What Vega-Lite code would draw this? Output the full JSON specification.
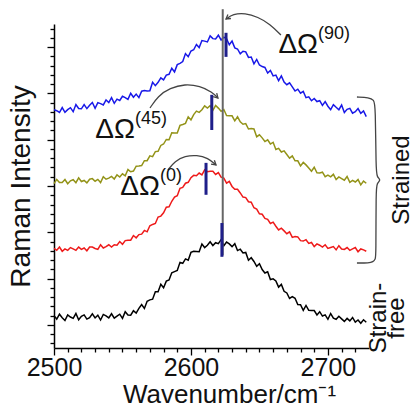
{
  "$schema": "https://vega.github.io/schema/vega-lite/v6.json",
  "width": 315,
  "height": 324,
  "autosize": "none",
  "padding": {"left": 54, "top": 24, "right": 46, "bottom": 63},
  "background": "white",
  "config": {"view": {"stroke": null}, "font": "Liberation Sans"},
  "datasets": {
    "spectra": [
      {"w":2500,"k":0.20,"r":1.65,"o":3.051,"b":4.648},{"w":2502,"k":0.125,"r":1.61,"o":3.142,"b":4.626},{"w":2504,"k":0.23,"r":1.68,"o":3.077,"b":4.588},{"w":2506,"k":0.155,"r":1.59,"o":3.074,"b":4.694},{"w":2508,"k":0.095,"r":1.64,"o":3.139,"b":4.592},
      {"w":2510,"k":0.215,"r":1.61,"o":3.048,"b":4.65},{"w":2512,"k":0.17,"r":1.67,"o":3.113,"b":4.692},{"w":2514,"k":0.14,"r":1.64,"o":3.136,"b":4.606},{"w":2516,"k":0.245,"r":1.61,"o":3.071,"b":4.76},{"w":2518,"k":0.11,"r":1.68,"o":3.175,"b":4.674},
      {"w":2520,"k":0.185,"r":1.63,"o":3.097,"b":4.668},{"w":2522,"k":0.215,"r":1.66,"o":3.12,"b":4.758},{"w":2524,"k":0.125,"r":1.60,"o":3.068,"b":4.672},{"w":2526,"k":0.155,"r":1.68,"o":3.146,"b":4.746},{"w":2528,"k":0.24,"r":1.68,"o":3.159,"b":4.804},
      {"w":2530,"k":0.15,"r":1.65,"o":3.104,"b":4.68},{"w":2532,"k":0.21,"r":1.63,"o":3.143,"b":4.802},{"w":2534,"k":0.105,"r":1.73,"o":3.075,"b":4.78},{"w":2536,"k":0.225,"r":1.66,"o":3.202,"b":4.752},{"w":2538,"k":0.195,"r":1.69,"o":3.147,"b":4.858},
      {"w":2540,"k":0.15,"r":1.73,"o":3.17,"b":4.804},{"w":2542,"k":0.24,"r":1.68,"o":3.206,"b":4.91},{"w":2544,"k":0.145,"r":1.73,"o":3.151,"b":4.786},{"w":2546,"k":0.19,"r":1.72,"o":3.239,"b":4.876},{"w":2548,"k":0.23,"r":1.80,"o":3.194,"b":4.848},
      {"w":2550,"k":0.14,"r":1.74,"o":3.263,"b":4.938},{"w":2552,"k":0.285,"r":1.82,"o":3.218,"b":4.91},{"w":2554,"k":0.215,"r":1.83,"o":3.355,"b":4.872},{"w":2556,"k":0.21,"r":1.83,"o":3.307,"b":5.004},{"w":2558,"k":0.305,"r":1.93,"o":3.324,"b":4.918},
      {"w":2560,"k":0.255,"r":1.88,"o":3.429,"b":4.986},{"w":2562,"k":0.355,"r":1.95,"o":3.43,"b":4.91},{"w":2564,"k":0.44,"r":1.96,"o":3.441,"b":5.048},{"w":2566,"k":0.355,"r":2.04,"o":3.546,"b":5.062},{"w":2568,"k":0.51,"r":2.01,"o":3.547,"b":5.054},
      {"w":2570,"k":0.54,"r":2.14,"o":3.652,"b":5.056},{"w":2572,"k":0.555,"r":2.17,"o":3.634,"b":5.24},{"w":2574,"k":0.715,"r":2.19,"o":3.743,"b":5.168},{"w":2576,"k":0.715,"r":2.33,"o":3.751,"b":5.24},{"w":2578,"k":0.875,"r":2.35,"o":3.876,"b":5.338},
      {"w":2580,"k":0.80,"r":2.42,"o":3.907,"b":5.292},{"w":2582,"k":0.945,"r":2.54,"o":4.006,"b":5.396},{"w":2584,"k":0.97,"r":2.55,"o":4.001,"b":5.414},{"w":2586,"k":1.125,"r":2.67,"o":4.152,"b":5.544},{"w":2588,"k":1.15,"r":2.76,"o":4.147,"b":5.466},
      {"w":2590,"k":1.175,"r":2.79,"o":4.145,"b":5.622},{"w":2592,"k":1.35,"r":2.95,"o":4.309,"b":5.65},{"w":2594,"k":1.33,"r":2.97,"o":4.33,"b":5.688},{"w":2596,"k":1.425,"r":3.06,"o":4.354,"b":5.86},{"w":2598,"k":1.395,"r":3.08,"o":4.495,"b":5.792},
      {"w":2600,"k":1.565,"r":3.18,"o":4.428,"b":5.916},{"w":2602,"k":1.59,"r":3.23,"o":4.543,"b":5.944},{"w":2604,"k":1.585,"r":3.22,"o":4.619,"b":6.058},{"w":2606,"k":1.58,"r":3.28,"o":4.591,"b":5.99},{"w":2608,"k":1.745,"r":3.24,"o":4.647,"b":6.142},
      {"w":2610,"k":1.67,"r":3.35,"o":4.732,"b":6.13},{"w":2612,"k":1.72,"r":3.31,"o":4.684,"b":6.112},{"w":2614,"k":1.795,"r":3.32,"o":4.736,"b":6.244},{"w":2616,"k":1.715,"r":3.32,"o":4.635,"b":6.184},{"w":2618,"k":1.775,"r":3.25,"o":4.739,"b":6.178},
      {"w":2620,"k":1.755,"r":3.29,"o":4.683,"b":6.258},{"w":2622,"k":1.84,"r":3.19,"o":4.614,"b":6.156},{"w":2624,"k":1.71,"r":3.17,"o":4.652,"b":6.216},{"w":2626,"k":1.79,"r":3.06,"o":4.521,"b":6.182},{"w":2628,"k":1.75,"r":3.10,"o":4.52,"b":6.052},
      {"w":2630,"k":1.69,"r":2.99,"o":4.516,"b":6.13},{"w":2632,"k":1.755,"r":2.93,"o":4.408,"b":5.984},{"w":2634,"k":1.605,"r":2.93,"o":4.495,"b":5.96},{"w":2636,"k":1.635,"r":2.85,"o":4.387,"b":5.856},{"w":2638,"k":1.555,"r":2.76,"o":4.334,"b":5.912},
      {"w":2640,"k":1.565,"r":2.75,"o":4.349,"b":5.898},{"w":2642,"k":1.395,"r":2.66,"o":4.231,"b":5.778},{"w":2644,"k":1.45,"r":2.65,"o":4.243,"b":5.786},{"w":2646,"k":1.37,"r":2.53,"o":4.232,"b":5.64},{"w":2648,"k":1.265,"r":2.50,"o":4.065,"b":5.734},
      {"w":2650,"k":1.32,"r":2.40,"o":4.106,"b":5.614},{"w":2652,"k":1.195,"r":2.39,"o":4.04,"b":5.58},{"w":2654,"k":1.12,"r":2.30,"o":3.961,"b":5.562},{"w":2656,"k":1.145,"r":2.28,"o":3.999,"b":5.442},{"w":2658,"k":0.98,"r":2.19,"o":3.907,"b":5.498},
      {"w":2660,"k":0.995,"r":2.22,"o":3.945,"b":5.378},{"w":2662,"k":0.95,"r":2.13,"o":3.788,"b":5.396},{"w":2664,"k":0.815,"r":2.05,"o":3.813,"b":5.276},{"w":2666,"k":0.875,"r":2.09,"o":3.734,"b":5.38},{"w":2668,"k":0.725,"r":2.03,"o":3.759,"b":5.244},
      {"w":2670,"k":0.69,"r":1.97,"o":3.68,"b":5.188},{"w":2672,"k":0.57,"r":2.01,"o":3.601,"b":5.228},{"w":2674,"k":0.61,"r":1.89,"o":3.652,"b":5.14},{"w":2676,"k":0.575,"r":1.91,"o":3.544,"b":5.052},{"w":2678,"k":0.44,"r":1.90,"o":3.543,"b":5.092},
      {"w":2680,"k":0.435,"r":1.82,"o":3.435,"b":5.004},{"w":2682,"k":0.315,"r":1.81,"o":3.509,"b":5.044},{"w":2684,"k":0.42,"r":1.84,"o":3.456,"b":4.908},{"w":2686,"k":0.315,"r":1.76,"o":3.387,"b":4.926},{"w":2688,"k":0.31,"r":1.78,"o":3.318,"b":4.842},
      {"w":2690,"k":0.31,"r":1.69,"o":3.405,"b":4.892},{"w":2692,"k":0.215,"r":1.75,"o":3.284,"b":4.824},{"w":2694,"k":0.285,"r":1.72,"o":3.28,"b":4.842},{"w":2696,"k":0.19,"r":1.68,"o":3.299,"b":4.742},{"w":2698,"k":0.215,"r":1.73,"o":3.201,"b":4.824},
      {"w":2700,"k":0.12,"r":1.65,"o":3.233,"b":4.724},{"w":2702,"k":0.245,"r":1.67,"o":3.197,"b":4.65},{"w":2704,"k":0.145,"r":1.69,"o":3.252,"b":4.758},{"w":2706,"k":0.12,"r":1.62,"o":3.138,"b":4.70},{"w":2708,"k":0.185,"r":1.71,"o":3.196,"b":4.648},
      {"w":2710,"k":0.13,"r":1.64,"o":3.16,"b":4.75},{"w":2712,"k":0.075,"r":1.63,"o":3.124,"b":4.586},{"w":2714,"k":0.14,"r":1.67,"o":3.205,"b":4.656},{"w":2716,"k":0.085,"r":1.61,"o":3.081,"b":4.678},{"w":2718,"k":0.16,"r":1.64,"o":3.123,"b":4.572},
      {"w":2720,"k":0.06,"r":1.67,"o":3.087,"b":4.604},{"w":2722,"k":0.105,"r":1.58,"o":3.139,"b":4.674},{"w":2724,"k":0.035,"r":1.64,"o":3.025,"b":4.568},{"w":2726,"k":0.11,"r":1.62,"o":3.106,"b":4.622},{"w":2728,"k":0.055,"r":1.59,"o":3.06,"b":4.50}
    ],
    "peaks": [
      {"w":2622.6,"lo":1.47,"hi":2.20},
      {"w":2611.0,"lo":2.81,"hi":3.50},
      {"w":2615.2,"lo":4.21,"hi":4.97},
      {"w":2625.6,"lo":5.79,"hi":6.31}
    ],
    "ref": [{"w":2623.2,"lo":1.5,"hi":6.82}],
    "arcs": [
      {"arc":"a90","n":0,"w":2665.7,"d":6.262},{"arc":"a90","n":1,"w":2657.7,"d":6.5},{"arc":"a90","n":2,"w":2648.9,"d":6.651},{"arc":"a90","n":3,"w":2639.5,"d":6.738},{"arc":"a90","n":4,"w":2630.7,"d":6.716},{"arc":"a90","n":5,"w":2625.6,"d":6.608},
      {"arc":"a45","n":0,"w":2570.1,"d":4.685},{"arc":"a45","n":1,"w":2575.9,"d":4.944},{"arc":"a45","n":2,"w":2584.7,"d":5.117},{"arc":"a45","n":3,"w":2595.6,"d":5.204},{"arc":"a45","n":4,"w":2606.6,"d":5.160},{"arc":"a45","n":5,"w":2615.4,"d":5.031},{"arc":"a45","n":6,"w":2619.7,"d":4.901},
      {"arc":"a0","n":0,"w":2583.2,"d":3.346},{"arc":"a0","n":1,"w":2588.3,"d":3.540},{"arc":"a0","n":2,"w":2595.6,"d":3.648},{"arc":"a0","n":3,"w":2604.4,"d":3.670},{"arc":"a0","n":4,"w":2612.4,"d":3.605},{"arc":"a0","n":5,"w":2618.3,"d":3.454}
    ],
    "heads": [
      {"arc":"h90","n":0,"w":2629.2,"d":6.619},{"arc":"h90","n":1,"w":2625.6,"d":6.608},{"arc":"h90","n":2,"w":2627.0,"d":6.705},
      {"arc":"h45","n":0,"w":2618.8,"d":5.005},{"arc":"h45","n":1,"w":2619.7,"d":4.901},{"arc":"h45","n":2,"w":2616.2,"d":4.929},
      {"arc":"h0","n":0,"w":2617.1,"d":3.557},{"arc":"h0","n":1,"w":2618.3,"d":3.454},{"arc":"h0","n":2,"w":2614.7,"d":3.475}
    ],
    "brace": [
      {"n":0,"w":2721.2,"d":4.923},{"n":1,"w":2730.0,"d":4.912},{"n":2,"w":2733.6,"d":4.858},{"n":3,"w":2734.7,"d":4.750},{"n":4,"w":2735.1,"d":3.346},{"n":5,"w":2735.8,"d":3.194},{"n":6,"w":2738.8,"d":3.130},{"n":7,"w":2735.8,"d":3.065},{"n":8,"w":2735.1,"d":2.914},{"n":9,"w":2735.1,"d":1.488},{"n":10,"w":2734.7,"d":1.423},{"n":11,"w":2732.9,"d":1.358},{"n":12,"w":2730.0,"d":1.336},{"n":13,"w":2721.2,"d":1.336}
    ],
    "labels": [
      {"w":2692.8,"d":5.873,"main":"ΔΩ","sup":"(90)"},
      {"w":2559.1,"d":4.037,"main":"ΔΩ","sup":"(45)"},
      {"w":2577.4,"d":2.806,"main":"ΔΩ","sup":"(0)"}
    ],
    "side": [
      {"w":2754.1,"d":3.13,"txt":["Strained"]},
      {"w":2737.6,"d":0.148,"txt":["Strain-","free"]}
    ]
  },
  "layer": [
    {
      "data": {"name": "spectra"},
      "transform": [{"fold": ["k","r","o","b"], "as": ["series","value"]}],
      "mark": {"type": "line", "strokeWidth": 1.5},
      "encoding": {
        "x": {
          "field": "w", "type": "quantitative",
          "scale": {"domain": [2500, 2730], "nice": false, "zero": false},
          "axis": {
            "title": "Wavenumber/cm⁻¹",
            "values": [2500,2510,2520,2530,2540,2550,2560,2570,2580,2590,2600,2610,2620,2630,2640,2650,2660,2670,2680,2690,2700,2710,2720],
            "tickCount": 200,
            "format": "d",
            "labelExpr": "datum.value % 100 === 0 ? datum.label : ''",
            "tickSize": {"condition": {"test": "datum.value % 100 === 0", "value": 7}, "value": 4},
            "tickColor": "#000", "tickWidth": 1.3,
            "domainColor": "#000", "domainWidth": 1.5,
            "grid": false,
            "labelFontSize": 25, "labelColor": "#111", "labelPadding": 0,
            "labelOverlap": false, "labelBound": false, "labelFlush": false,
            "titleFontSize": 26, "titleFontWeight": "normal", "titleColor": "#111",
            "titleX": 175, "titleY": 54, "titleBaseline": "alphabetic", "titleAlign": "center"
          }
        },
        "y": {
          "field": "value", "type": "quantitative",
          "scale": {"domain": [-0.5, 6.5], "nice": false, "zero": false},
          "axis": {
            "title": "Raman Intensity",
            "values": [-0.4,-0.2,0,0.2,0.4,0.6,0.8,1,1.2,1.4,1.6,1.8,2,2.2,2.4,2.6,2.8,3,3.2,3.4,3.6,3.8,4,4.2,4.4,4.6,4.8,5,5.2,5.4,5.6,5.8,6,6.2,6.4],
            "tickCount": 200,
            "labels": false,
            "tickSize": {"condition": {"test": "abs(datum.value - round(datum.value)) < 0.01", "value": 7}, "value": 4},
            "tickColor": "#000", "tickWidth": 1.3,
            "domainColor": "#000", "domainWidth": 1.5,
            "grid": false,
            "titleFontSize": 28, "titleFontWeight": "normal", "titleColor": "#111",
            "titleX": -25, "titleY": 162, "titleBaseline": "alphabetic", "titleAlign": "center", "titleAngle": 270
          }
        },
        "color": {
          "field": "series", "type": "nominal",
          "scale": {"domain": ["k","r","o","b"], "range": ["#000000","#ee1a1a","#939318","#1818e8"]},
          "legend": null
        }
      }
    },
    {
      "data": {"name": "ref"},
      "mark": {"type": "rule", "color": "#666666", "strokeWidth": 2},
      "encoding": {
        "x": {"field": "w", "type": "quantitative"},
        "y": {"field": "lo", "type": "quantitative"},
        "y2": {"field": "hi"}
      }
    },
    {
      "data": {"name": "peaks"},
      "mark": {"type": "rule", "color": "#1f1f8a", "strokeWidth": 3},
      "encoding": {
        "x": {"field": "w", "type": "quantitative"},
        "y": {"field": "lo", "type": "quantitative"},
        "y2": {"field": "hi"}
      }
    },
    {
      "data": {"name": "arcs"},
      "mark": {"type": "line", "interpolate": "basis", "color": "#444444", "strokeWidth": 1.3},
      "encoding": {
        "x": {"field": "w", "type": "quantitative"},
        "y": {"field": "d", "type": "quantitative"},
        "detail": {"field": "arc"},
        "order": {"field": "n"}
      }
    },
    {
      "data": {"name": "heads"},
      "mark": {"type": "line", "color": "#444444", "strokeWidth": 1.3},
      "encoding": {
        "x": {"field": "w", "type": "quantitative"},
        "y": {"field": "d", "type": "quantitative"},
        "detail": {"field": "arc"},
        "order": {"field": "n"}
      }
    },
    {
      "data": {"name": "brace"},
      "mark": {"type": "line", "interpolate": "basis", "color": "#444444", "strokeWidth": 1.3},
      "encoding": {
        "x": {"field": "w", "type": "quantitative"},
        "y": {"field": "d", "type": "quantitative"},
        "order": {"field": "n"}
      }
    },
    {
      "data": {"name": "labels"},
      "mark": {"type": "text", "align": "right", "baseline": "alphabetic", "fontSize": 28, "color": "#111"},
      "encoding": {
        "x": {"field": "w", "type": "quantitative"},
        "y": {"field": "d", "type": "quantitative"},
        "text": {"field": "main"}
      }
    },
    {
      "data": {"name": "labels"},
      "mark": {"type": "text", "align": "left", "baseline": "alphabetic", "fontSize": 18, "dy": -14, "color": "#111"},
      "encoding": {
        "x": {"field": "w", "type": "quantitative"},
        "y": {"field": "d", "type": "quantitative"},
        "text": {"field": "sup"}
      }
    },
    {
      "data": {"name": "side"},
      "mark": {"type": "text", "align": "center", "baseline": "middle", "angle": 270, "fontSize": 24, "lineHeight": 18, "color": "#111"},
      "encoding": {
        "x": {"field": "w", "type": "quantitative"},
        "y": {"field": "d", "type": "quantitative"},
        "text": {"field": "txt"}
      }
    }
  ]
}
